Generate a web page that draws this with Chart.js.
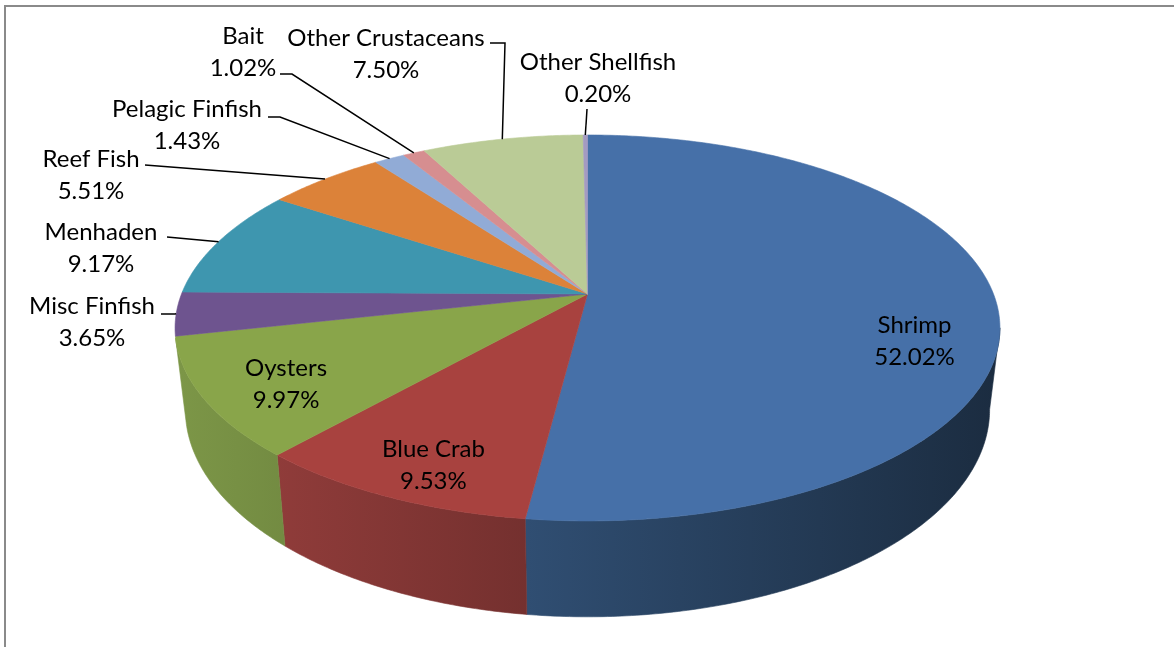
<!DOCTYPE html>
<html>
<head>
<meta charset="utf-8">
<script src="https://cdn.jsdelivr.net/npm/chart.js@4.4.1/dist/chart.umd.min.js"></script>
<style>
    html, body { margin: 0; padding: 0; background: #fff; }
    #wrap { width: 1174px; height: 647px; }
</style>
</head>
<body>
<div id="wrap"><canvas id="pie" width="1174" height="647"></canvas></div>
<script>
const categories = ['Shrimp', 'Blue Crab', 'Oysters', 'Misc Finfish', 'Menhaden', 'Reef Fish', 'Pelagic Finfish', 'Bait', 'Other Crustaceans', 'Other Shellfish'];
const shares = [52.02, 9.53, 9.97, 3.65, 9.17, 5.51, 1.43, 1.02, 7.50, 0.20];

// lit top faces, and the base colours the side walls are shaded from
const topColors = ['#4670a8', '#a8423f', '#89a54a', '#6e548f', '#3e96af', '#dc8239', '#91abd6', '#d68e90', '#bacb96', '#a49bc1'];
const baseColors = ['#4f81bd', '#c0504d', '#9bbb59', '#8064a2', '#4bacc6', '#f79646', '#a5bce0', '#f2a3a5', '#d3e3b0', '#b8b0d8'];

// which slices carry their label inside the top face
const insideLabels = ['Shrimp', 'Blue Crab', 'Oysters'];

// outside label blocks: centre of the two text lines, start of the leader and optional elbow
const outsideLayout = {
    'Bait':              { x: 243, y: 52,  from: [280, 74],  elbow: [292, 74] },
    'Other Crustaceans': { x: 386, y: 54,  from: [490, 43],  elbow: [505, 43] },
    'Other Shellfish':   { x: 598, y: 78,  from: [587, 109], elbow: null },
    'Pelagic Finfish':   { x: 187, y: 125, from: [268, 117], elbow: [280, 117] },
    'Reef Fish':         { x: 91,  y: 175, from: [145, 165], elbow: null },
    'Menhaden':          { x: 101, y: 248, from: [167, 237], elbow: null },
    'Misc Finfish':      { x: 92,  y: 322, from: [161, 314], elbow: [175, 314] },
};

// perspective of the tilted disc
const RX = 406, RY = 187, PERSP = 0.176, DEPTH = 79, TAPER = 0.975;
const FONT = '24px Lato, "Open Sans", sans-serif';
const LINE_GAP = 32;

function shade(hex, f) {
    const c = hex.replace('#', '');
    const r = Math.round(parseInt(c.slice(0, 2), 16) * f);
    const g = Math.round(parseInt(c.slice(2, 4), 16) * f);
    const b = Math.round(parseInt(c.slice(4, 6), 16) * f);
    return `rgb(${r},${g},${b})`;
}

// phi runs clockwise from 12 o'clock, r is a fraction of the radius
function project(cx, cy, phi, r, low) {
    const u = r * Math.sin(phi);
    const v = -r * Math.cos(phi);
    const w = 1 - PERSP * v;
    let x = RX * u / w;
    let y = RY * v / w;
    if (low) {
        x *= TAPER;
        y += DEPTH / w;
    }
    return [cx + x, cy + y];
}

// angles where the top rim reaches its right and left extremes;
// the tapered wall turns away a little before the left one
function silhouette() {
    let right = 0, left = 0, maxX = -Infinity, minX = Infinity;
    for (let d = 0; d < 360; d += 0.1) {
        const phi = d * Math.PI / 180;
        const x = project(0, 0, phi, 1, false)[0];
        if (x > maxX) { maxX = x; right = phi; }
        if (x < minX) { minX = x; left = phi; }
    }
    return [right, left - 3 * Math.PI / 180];
}

function rim(ctx, cx, cy, a, b, low, first) {
    const steps = Math.max(2, Math.ceil(Math.abs(b - a) / 0.01));
    for (let i = 0; i <= steps; i++) {
        const p = project(cx, cy, a + (b - a) * i / steps, 1, low);
        if (i === 0 && first) ctx.moveTo(p[0], p[1]);
        else ctx.lineTo(p[0], p[1]);
    }
}

const pie3d = {
    id: 'pie3d',
    beforeDatasetsDraw(chart) {
        const { ctx } = chart;
        const arcs = chart.getDatasetMeta(0).data;
        const cx = arcs[0].x, cy = arcs[0].y;
        const off = Math.PI / 2;
        const [sideFrom, sideTo] = silhouette();

        // side walls, only the front half shows
        arcs.forEach((arc, i) => {
            const a = Math.max(arc.startAngle + off, sideFrom);
            const b = Math.min(arc.endAngle + off, sideTo);
            if (b <= a) return;
            const grad = ctx.createLinearGradient(cx - 408, 0, cx + 412, 0);
            grad.addColorStop(0, shade(baseColors[i], 0.80));
            grad.addColorStop(1, shade(baseColors[i], 0.34));
            ctx.beginPath();
            rim(ctx, cx, cy, a, b, false, true);
            rim(ctx, cx, cy, b, a, true, false);
            ctx.closePath();
            ctx.fillStyle = grad;
            ctx.fill();
            ctx.strokeStyle = grad;
            ctx.lineWidth = 0.6;
            ctx.stroke();
        });

        // top faces
        arcs.forEach((arc, i) => {
            const a = arc.startAngle + off, b = arc.endAngle + off;
            ctx.beginPath();
            ctx.moveTo(cx, cy);
            rim(ctx, cx, cy, a, b, false, false);
            ctx.closePath();
            ctx.fillStyle = topColors[i];
            ctx.fill();
            ctx.strokeStyle = topColors[i];
            ctx.lineWidth = 0.6;
            ctx.stroke();
        });
        return false;
    },
    afterDraw(chart) {
        const { ctx } = chart;
        const arcs = chart.getDatasetMeta(0).data;
        const cx = arcs[0].x, cy = arcs[0].y;
        const off = Math.PI / 2;

        ctx.save();
        ctx.font = FONT;
        ctx.fillStyle = '#000';
        ctx.textAlign = 'center';
        ctx.textBaseline = 'middle';
        ctx.strokeStyle = '#000';
        ctx.lineWidth = 1.5;

        arcs.forEach((arc, i) => {
            const name = categories[i];
            const pct = shares[i].toFixed(2) + '%';
            const mid = (arc.startAngle + arc.endAngle) / 2 + off;

            if (insideLabels.includes(name)) {
                const p = project(cx, cy, mid, 0.8, false);
                const y = p[1] + 22 + 16 * Math.sin(mid);
                ctx.fillText(name, p[0], y - LINE_GAP / 2);
                ctx.fillText(pct, p[0], y + LINE_GAP / 2);
                return;
            }

            const lay = outsideLayout[name];
            ctx.fillText(name, lay.x, lay.y - LINE_GAP / 2);
            ctx.fillText(pct, lay.x, lay.y + LINE_GAP / 2);

            const end = project(cx, cy, mid, 1, false);
            ctx.beginPath();
            ctx.moveTo(lay.from[0], lay.from[1]);
            if (lay.elbow) ctx.lineTo(lay.elbow[0], lay.elbow[1]);
            ctx.lineTo(end[0], end[1]);
            ctx.stroke();
        });

        // chart area frame
        ctx.strokeStyle = '#8a8a8a';
        ctx.lineWidth = 2;
        ctx.strokeRect(5, 6, 1190, 700);
        ctx.restore();
    }
};

new Chart(document.getElementById('pie'), {
    type: 'pie',
    data: {
        labels: categories,
        datasets: [{
            data: shares,
            backgroundColor: topColors,
            borderWidth: 0,
        }],
    },
    options: {
        responsive: false,
        animation: false,
        devicePixelRatio: 1,
        events: [],
        layout: { padding: { left: 1, bottom: 59 } },
        plugins: {
            legend: { display: false },
            tooltip: { enabled: false },
        },
    },
    plugins: [pie3d],
});
</script>
</body>
</html>
